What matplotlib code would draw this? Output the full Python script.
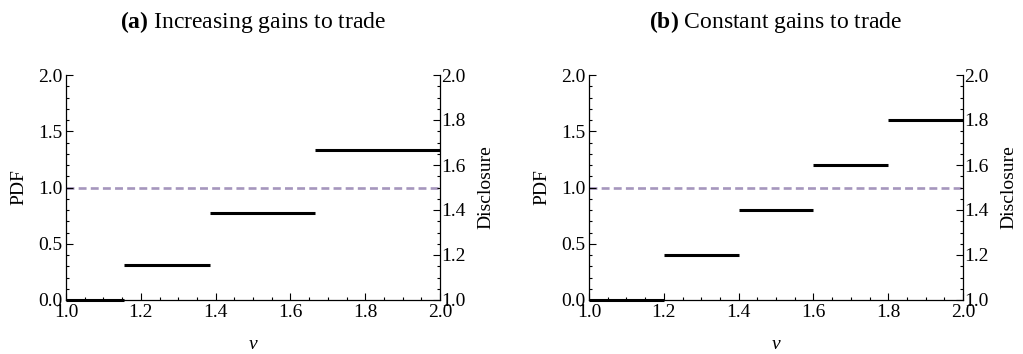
import matplotlib.pyplot as plt
from matplotlib.ticker import MultipleLocator

plt.rcParams['font.family'] = ['Liberation Serif', 'DejaVu Serif']
plt.rcParams['mathtext.fontset'] = 'custom'
plt.rcParams['mathtext.rm'] = 'Liberation Serif'
plt.rcParams['mathtext.bf'] = 'Liberation Serif:bold'
plt.rcParams['mathtext.it'] = 'Liberation Serif:italic'

# panel (a): increasing gains to trade
edges_a = [1.0, 1.155, 1.385, 1.665, 2.0]
disclosure_a = [1.0, 1.157, 1.388, 1.665]
# panel (b): constant gains to trade
edges_b = [1.0, 1.2, 1.4, 1.6, 1.8, 2.0]
disclosure_b = [1.0, 1.2, 1.4, 1.6, 1.8]
pdf_level = 1.0

titles = [r'$\mathbf{(a)}$ Increasing gains to trade',
          r'$\mathbf{(b)}$ Constant gains to trade']

fig = plt.figure(figsize=(10.23, 3.54), dpi=100)
lefts = [66 / 1023, 589 / 1023]
w = 374 / 1023
b = 1 - 300 / 354
h = 225 / 354

panels = [(edges_a, disclosure_a), (edges_b, disclosure_b)]
for i, (edges, disc) in enumerate(panels):
    ax = fig.add_axes([lefts[i], b, w, h])
    ax2 = ax.twinx()
    ax.set_xlim(1.0, 2.0)
    ax.set_ylim(0.0, 2.0)
    ax2.set_ylim(1.0, 2.0)

    ax.axhline(pdf_level, color='#a596bd', lw=1.9, dashes=(3.0, 1.6), zorder=1)
    ax2.hlines(disc, edges[:-1], edges[1:], color='black', lw=2.2, clip_on=False)

    for a in (ax, ax2):
        a.spines['top'].set_visible(False)
    ax2.spines['left'].set_visible(False)
    ax2.spines['bottom'].set_visible(False)
    ax.spines['right'].set_visible(False)
    for a in (ax, ax2):
        for s in a.spines.values():
            s.set_linewidth(0.9)

    ax.xaxis.set_major_locator(MultipleLocator(0.2))
    ax.xaxis.set_minor_locator(MultipleLocator(0.05))
    ax.yaxis.set_major_locator(MultipleLocator(0.5))
    ax.yaxis.set_minor_locator(MultipleLocator(0.1))
    ax2.yaxis.set_major_locator(MultipleLocator(0.2))
    ax2.yaxis.set_minor_locator(MultipleLocator(0.05))
    ax.xaxis.set_major_formatter(lambda v, p: f'{v:.1f}')
    ax.yaxis.set_major_formatter(lambda v, p: f'{v:.1f}')
    ax2.yaxis.set_major_formatter(lambda v, p: f'{v:.1f}')

    ax.tick_params(which='both', direction='in', top=False, right=False,
                   labelsize=14, width=0.8)
    ax.tick_params(axis='x', pad=3)
    ax.tick_params(axis='y', pad=2.5)
    ax.tick_params(which='major', length=5)
    ax.tick_params(which='minor', length=2.5)
    ax2.tick_params(which='both', direction='in', labelsize=14, width=0.8, pad=1)
    ax2.tick_params(which='major', length=5)
    ax2.tick_params(which='minor', length=2.5)

    ax.set_ylabel('PDF', fontsize=14, labelpad=8)
    ax2.set_ylabel('Disclosure', fontsize=14, labelpad=8)
    ax.set_xlabel('$v$', fontsize=14, labelpad=11)
    ax.set_title(titles[i], fontsize=17, pad=34)

plt.savefig('out.png', dpi=100)
